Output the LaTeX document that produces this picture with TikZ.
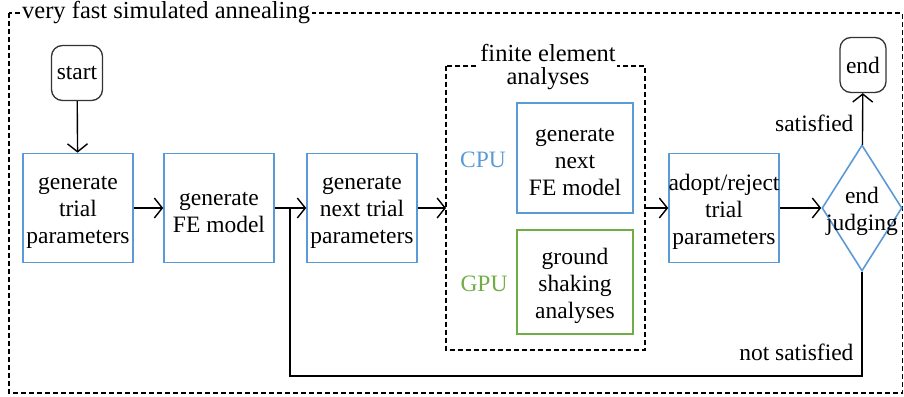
\documentclass[tikz,border=0pt]{standalone}
\usepackage{fontspec}
\setmainfont{Liberation Serif}
\definecolor{cpublue}{RGB}{91,155,213}
\definecolor{gpugreen}{RGB}{112,173,71}
\usetikzlibrary{arrows.meta}
\usetikzlibrary{shapes.geometric}
\tikzset{
  every node/.style={font=\fontsize{23.5}{27}\selectfont},
  boxtext/.style={align=center, inner sep=0pt, yshift=-4pt},
  stepbox/.style={draw=cpublue, line width=1.6pt, minimum width=110pt, minimum height=109pt, inner sep=0pt, label={[boxtext]center:{#1}}},
  terminal/.style={draw=black!80, line width=1.3pt, rounded corners=11pt, minimum width=51pt, minimum height=55pt, inner sep=0pt},
  decision/.style={draw=cpublue, line width=1.6pt, diamond, aspect=0.635, minimum width=80pt, minimum height=126pt, inner sep=0pt, label={[boxtext, yshift=1pt]center:{#1}}},
  frame/.style={dashed, dash pattern=on 5pt off 3pt, line width=1.3pt},
  flow/.style={line width=1.4pt, -{Straight Barb[length=8pt,width=20pt,line width=1.4pt]}},
}

\begin{document}
\begin{tikzpicture}[x=1pt,y=-1pt]
  \useasboundingbox (0,0) rectangle (904,396);

  % outer frame
  \draw [frame] (9,13) rectangle (902.5,393);
  \node [fill=white, inner sep=2pt, anchor=west, font=\fontsize{24.5}{27}\selectfont] (title) at (20,13) {very fast simulated annealing};

  \node [terminal] (start) at (77,73) {start};
  \node [stepbox={generate\\trial\\parameters}] (trial) at (78,208) {};
  \node [stepbox={generate\\FE model}] (femodel) at (219,208) {};
  \node [stepbox={generate\\next trial\\parameters}] (nexttrial) at (362,208) {};

  % finite element analyses
  \draw [frame] (446,66) rectangle (645,350);
  \coordinate (feain) at (446,208);
  \coordinate (feaout) at (645,208);
  \node [fill=white, inner sep=1pt, align=center, font=\fontsize{24.5}{23.5}\selectfont] (fealabel) at (548,67) {finite element\\analyses};
  \node [stepbox={generate\\next\\FE model}, minimum width=116pt, minimum height=110pt] (cpubox) at (575,158) {};
  \node [stepbox={ground\\shaking\\analyses}, draw=gpugreen, minimum width=116pt, minimum height=104pt] (gpubox) at (575,282) {};
  \node [text=cpublue] (cpu) at (483,160) {CPU};
  \node [text=gpugreen] (gpu) at (484,284) {GPU};

  \node [stepbox={adopt/reject\\trial\\parameters}] (adopt) at (724,208) {};
  \node [decision={end\\judging}] (judge) at (862,208) {};
  \node [terminal, minimum width=46pt] (end) at (863,65) {end};

  \node [anchor=east] (sat) at (857,123) {satisfied};
  \node [anchor=east] (notsat) at (857,352) {not satisfied};

  \draw [flow] (start) -- (trial);
  \draw [flow] (trial) -- (femodel);
  \draw [flow] (femodel) -- (nexttrial);
  \draw [flow] (nexttrial) -- (feain);
  \draw [flow] (feaout) -- (adopt);
  \draw [flow] (adopt) -- (judge);
  \draw [flow] (judge) -- (end);

  % loop back
  \coordinate (loop) at (290,208);
  \coordinate (loopcorner) at (290,376);
  \draw [line width=1.6pt] (judge.south) |- (loopcorner) -- (loop);
\end{tikzpicture}
\end{document}
